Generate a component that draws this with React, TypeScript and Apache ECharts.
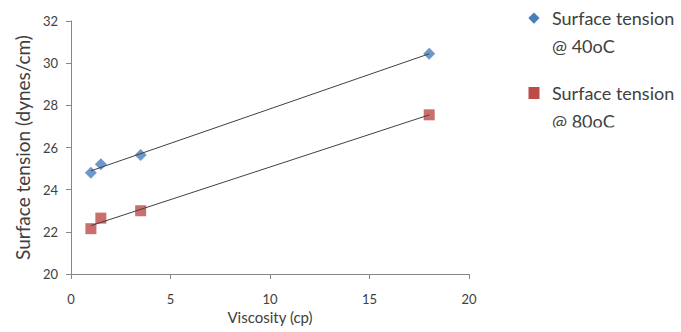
import React, { useEffect, useRef } from "react";
import * as echarts from "echarts";

const viscosity = [1, 1.5, 3.5, 18];
const tension40 = [24.8, 25.2, 25.65, 30.45];
const tension80 = [22.15, 22.65, 23.0, 27.55];
const seriesNames = ["Surface tension\n@ 40oC", "Surface tension\n@ 80oC"];

function linFit(xs: number[], ys: number[]) {
  const n = xs.length;
  const mx = xs.reduce((a, b) => a + b, 0) / n;
  const my = ys.reduce((a, b) => a + b, 0) / n;
  let sxy = 0, sxx = 0;
  for (let i = 0; i < n; i++) {
    sxy += (xs[i] - mx) * (ys[i] - my);
    sxx += (xs[i] - mx) * (xs[i] - mx);
  }
  const k = sxy / sxx;
  const b = my - k * mx;
  const x0 = Math.min(...xs), x1 = Math.max(...xs);
  return [[x0, k * x0 + b], [x1, k * x1 + b]];
}

export default function App() {
  const ref = useRef<HTMLDivElement>(null);
  useEffect(() => {
    const chart = echarts.init(ref.current!, null, { renderer: "svg" });
    const font = "Lato";
    const axisColor = "#868686";
    const blue = "#4A7EBB";
    const red = "#BE4B48";
    chart.setOption({
      animation: false,
      backgroundColor: "#ffffff",
      textStyle: { fontFamily: font },
      grid: { left: 71, right: 212, top: 21, bottom: 58 },
      xAxis: {
        type: "value",
        min: 0,
        max: 20,
        interval: 5,
        name: "Viscosity (cp)",
        nameLocation: "middle",
        nameGap: 34,
        nameTextStyle: { fontSize: 15, color: "#404040", fontFamily: font },
        axisLine: { show: true, lineStyle: { color: axisColor } },
        axisTick: { show: true, length: 5, lineStyle: { color: axisColor } },
        axisLabel: { fontSize: 13, color: "#404040", margin: 18, fontFamily: font },
        splitLine: { show: false },
      },
      yAxis: {
        type: "value",
        min: 20,
        max: 32,
        interval: 2,
        name: "Surface tension (dynes/cm)",
        nameLocation: "middle",
        nameGap: 39,
        nameTextStyle: { fontSize: 19, color: "#404040", fontFamily: font },
        axisLine: { show: true, lineStyle: { color: axisColor } },
        axisTick: { show: true, length: 5, lineStyle: { color: axisColor } },
        axisLabel: { fontSize: 13, color: "#404040", margin: 13, fontFamily: font },
        splitLine: { show: false },
      },
      graphic: [
        {
          type: "group",
          silent: true,
          z: 100,
          children: [
            { type: "rect", shape: { x: 530, y: 14, width: 8, height: 8 }, rotation: Math.PI / 4, originX: 534, originY: 18, style: { fill: blue } },
            { type: "text", x: 552, y: 4, style: { text: seriesNames[0], fontSize: 18, lineHeight: 28, fill: "#404040", fontFamily: font } },
            { type: "rect", shape: { x: 528.5, y: 87, width: 11, height: 12 }, style: { fill: red } },
            { type: "text", x: 552, y: 79, style: { text: seriesNames[1], fontSize: 18, lineHeight: 28, fill: "#404040", fontFamily: font } },
            { type: "rect", shape: { x: 540, y: 127.5, width: 141, height: 30 }, style: { fill: "#ffffff" } },
          ],
        },
      ],
      series: [
        {
          name: seriesNames[0],
          type: "scatter",
          symbol: "diamond",
          symbolSize: 12,
          itemStyle: { color: blue },
          data: viscosity.map((x, i) => [x, tension40[i]]),
          z: 3,
        },
        {
          name: seriesNames[1],
          type: "scatter",
          symbol: "rect",
          symbolSize: 11,
          itemStyle: { color: red },
          data: viscosity.map((x, i) => [x, tension80[i]]),
          z: 3,
        },
        {
          name: "trend40",
          type: "line",
          showSymbol: false,
          symbol: "none",
          lineStyle: { color: "#404040", width: 1 },
          data: linFit(viscosity, tension40),
          z: 4,
        },
        {
          name: "trend80",
          type: "line",
          showSymbol: false,
          symbol: "none",
          lineStyle: { color: "#404040", width: 1 },
          data: linFit(viscosity, tension80),
          z: 4,
        },
      ],
    });
    return () => chart.dispose();
  }, []);
  return <div ref={ref} style={{ position: "fixed", left: 0, top: 0, width: 681, height: 332 }} />;
}
